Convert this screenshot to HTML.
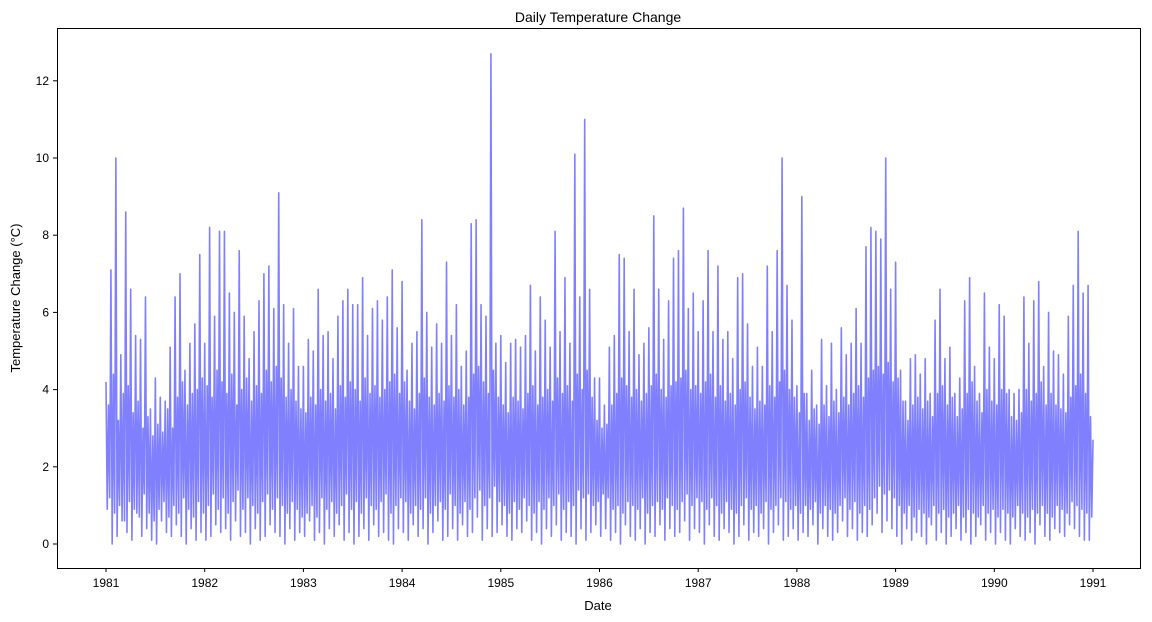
<!DOCTYPE html>
<html><head><meta charset="utf-8"><style>
html,body{margin:0;padding:0;background:#fff;}
svg{display:block;font-family:"Liberation Sans","DejaVu Sans",sans-serif;}
</style></head><body>
<svg id="chart" width="1152" height="622">
<rect x="0" y="0" width="1152" height="622" fill="#fff"/>
<text x="598" y="22" text-anchor="middle" font-size="14">Daily Temperature Change</text>
<text x="598" y="610" text-anchor="middle" font-size="13">Date</text>
<text transform="translate(20,298) rotate(-90)" text-anchor="middle" font-size="13">Temperature Change (°C)</text>
<g id="plot"></g>
<rect x="57.5" y="28.5" width="1083" height="540" fill="none" stroke="#000" stroke-width="1"/>
</svg>
<script>
const yearTicks=[1981,1982,1983,1984,1985,1986,1987,1988,1989,1990,1991];
const yTicks=[0,2,4,6,8,10,12];
const highs=[
4.2,7.1,10.0,4.9,8.6,6.6,5.4,5.3,6.4,3.5,4.3,3.8,3.7,5.1,6.4,7.0,4.5,5.2,5.7,7.5,
5.2,8.2,5.9,8.1,8.1,6.5,6.0,7.6,5.9,4.8,5.5,6.3,7.0,7.2,6.1,9.1,6.2,5.2,6.1,4.6,
4.6,5.3,5.0,6.6,5.4,5.5,4.8,5.9,6.3,6.6,6.2,6.2,6.9,5.4,6.1,6.3,5.8,6.4,7.1,5.6,
6.8,4.5,5.2,5.5,8.4,6.0,5.1,5.7,5.2,7.3,5.4,6.2,4.6,5.0,8.3,8.4,6.2,5.9,12.7,5.2,
5.4,4.7,5.2,5.3,5.1,5.4,6.7,5.0,6.4,5.8,5.1,8.1,5.5,6.9,5.2,10.1,6.4,11.0,6.6,4.3,
4.3,3.6,5.1,5.4,7.5,7.4,5.5,6.6,4.9,5.2,5.6,8.5,6.6,5.3,6.3,7.4,7.6,8.7,6.1,6.5,
5.5,6.3,7.6,5.5,7.2,5.3,5.5,4.8,6.9,7.0,5.7,4.6,5.1,4.6,7.2,5.5,7.6,10.0,6.7,5.8,
4.1,9.0,3.9,4.5,3.6,5.3,4.1,5.2,4.0,5.6,4.9,5.2,6.1,5.2,7.7,8.2,8.1,7.9,10.0,6.6,
7.3,4.5,3.7,4.8,4.9,4.4,4.8,3.9,5.8,6.6,4.8,5.1,3.9,4.3,6.3,6.9,4.6,3.9,6.5,5.1,
4.8,6.2,5.9,4.0,3.9,4.0,6.4,5.2,6.3,6.8,4.6,6.0,5.0,4.9,4.4,5.9,6.7,8.1,6.5,6.7];
const lows=[
0.9,0.0,0.2,0.6,0.3,0.1,0.8,0.2,0.4,0.1,0.0,0.6,0.3,0.2,0.5,0.2,0.0,0.4,0.1,0.3,
0.1,0.2,0.5,0.3,0.4,0.1,0.6,0.2,0.3,0.0,0.4,0.1,0.2,0.5,0.3,0.2,0.0,0.4,0.1,0.3,
0.2,0.6,0.1,0.3,0.0,0.4,0.2,0.5,0.1,0.3,0.0,0.2,0.4,0.1,0.5,0.2,0.3,0.1,0.0,0.4,
0.3,0.1,0.5,0.2,0.4,0.0,0.3,0.6,0.1,0.2,0.4,0.1,0.5,0.2,0.3,0.7,0.1,0.4,0.2,0.3,
0.5,0.2,0.1,0.4,0.3,0.6,0.1,0.3,0.0,0.4,0.2,0.5,0.1,0.3,0.2,0.0,0.4,0.1,0.3,0.5,
0.2,0.4,0.1,0.3,0.0,0.5,0.2,0.1,0.4,0.0,0.3,0.2,0.5,0.1,0.4,0.2,0.3,0.6,0.1,0.4,
0.3,0.0,0.5,0.2,0.1,0.4,0.3,0.0,0.2,0.5,0.1,0.3,0.2,0.4,0.0,0.3,0.5,0.1,0.2,0.4,
0.1,0.3,0.2,0.5,0.0,0.4,0.2,0.1,0.3,0.6,0.2,0.4,0.1,0.3,0.2,0.5,0.8,0.3,0.6,0.4,
0.2,0.0,0.4,0.1,0.3,0.2,0.0,0.5,0.1,0.3,0.0,0.2,0.4,0.1,0.3,0.0,0.2,0.5,0.1,0.3,
0.0,0.3,0.1,0.0,0.4,0.2,0.1,0.3,0.0,0.5,0.2,0.1,0.4,0.3,0.2,0.5,0.4,0.2,0.1,0.1];
const midHighs=[
3.6,4.4,3.2,3.9,4.1,3.4,3.7,3.0,3.3,2.8,3.1,2.9,3.5,3.0,3.8,4.2,3.6,3.9,4.0,4.3,
4.1,3.8,4.5,4.2,3.9,4.4,3.6,4.0,4.3,3.7,4.1,3.9,4.5,4.2,4.6,4.3,3.8,4.0,3.7,3.5,
3.4,3.8,3.6,4.0,3.7,3.9,3.5,4.1,3.8,4.2,4.0,3.7,4.3,3.9,4.1,3.8,4.0,4.2,4.4,3.9,
4.2,3.7,3.5,3.9,4.3,3.8,3.6,3.9,3.7,4.1,3.8,4.0,3.6,3.8,4.4,4.6,4.2,3.9,4.5,3.8,
3.6,3.4,3.8,3.7,3.5,3.9,4.1,3.6,3.8,4.0,3.7,4.3,3.9,4.1,3.7,4.4,4.0,4.5,3.8,3.2,
3.0,3.1,3.6,3.9,4.3,4.1,3.8,4.0,3.7,3.9,4.1,4.4,4.0,3.8,4.1,4.2,4.3,4.5,4.0,4.1,
3.9,4.2,4.4,3.8,4.1,3.7,3.9,3.6,4.0,4.2,3.8,3.5,3.7,3.6,4.1,3.8,4.2,4.5,4.0,3.8,
3.4,3.9,3.2,3.5,3.1,3.6,3.3,3.7,3.4,3.8,3.6,3.9,4.1,3.8,4.3,4.5,4.6,4.4,4.7,4.2,
4.3,3.7,3.2,3.6,3.8,3.5,3.7,3.3,3.9,4.1,3.6,3.8,3.3,3.5,3.9,4.2,3.7,3.4,4.0,3.7,
3.6,4.0,3.9,3.3,3.2,3.4,4.0,3.7,3.9,4.2,3.6,3.9,3.6,3.5,3.4,3.8,4.1,4.4,3.9,3.3];
const midLows=[
1.2,0.8,1.0,0.6,1.1,0.9,0.7,1.3,0.8,0.6,0.9,1.1,0.7,1.0,0.8,1.2,0.9,0.7,1.1,0.8,
1.0,1.3,0.9,1.2,0.8,1.1,1.4,0.9,1.2,1.0,0.8,1.1,1.3,0.9,1.2,1.0,0.8,1.1,0.9,0.7,
0.8,1.0,0.7,1.2,0.9,1.1,0.8,1.0,1.3,0.9,1.1,0.8,1.2,1.0,0.9,1.1,1.3,0.8,1.0,1.2,
1.1,0.8,1.0,0.9,1.2,0.8,1.0,1.1,0.9,1.3,1.0,0.8,1.1,0.9,1.2,1.4,1.0,1.2,1.5,1.1,
1.0,0.8,1.1,0.9,1.2,1.0,0.8,1.1,0.9,1.2,1.0,1.3,0.9,1.1,1.0,1.4,1.2,1.3,1.0,1.1,
1.3,1.2,0.9,1.0,0.8,1.1,1.0,0.9,1.2,0.8,1.0,1.1,0.9,1.2,1.0,0.9,1.1,1.3,1.0,1.2,
1.1,0.9,1.2,1.0,0.8,1.1,0.9,0.8,1.0,1.2,0.9,1.0,0.8,1.1,0.9,1.0,1.2,1.1,0.9,1.0,
0.8,1.0,0.9,1.1,0.8,1.0,0.9,0.8,1.0,1.2,0.9,1.1,0.8,1.0,0.9,1.2,1.5,1.3,1.4,1.2,
1.0,0.8,1.0,0.7,0.9,0.8,0.7,1.0,0.8,0.9,0.7,0.8,1.0,0.7,0.9,0.8,0.7,1.0,0.8,0.9,
0.7,0.9,0.8,0.7,1.0,0.8,0.7,0.9,0.8,1.0,0.8,0.7,1.0,0.9,0.8,1.1,1.0,0.9,0.8,0.7];
const finalValue=2.7;

const NS="http://www.w3.org/2000/svg";
const x0=106, pxPerYear=98.7, y0=544, pxPerUnit=38.6;
function xScale(yr){return x0+(yr-1981)*pxPerYear;}
function yScale(v){return y0-v*pxPerUnit;}
const plot=document.getElementById('plot');
const svg=document.getElementById('chart');

yearTicks.forEach(function(yr){
  const x=xScale(yr);
  const t=document.createElementNS(NS,'line');
  t.setAttribute('x1',x);t.setAttribute('x2',x);t.setAttribute('y1',568);t.setAttribute('y2',572);
  t.setAttribute('stroke','#000');
  
  
  svg.appendChild(t);
  const l=document.createElementNS(NS,'text');
  l.setAttribute('x',x);l.setAttribute('y',587);l.setAttribute('text-anchor','middle');l.setAttribute('font-size','12');
  l.textContent=yr;
  
  
  svg.appendChild(l);
});
yTicks.forEach(function(v){
  const y=yScale(v);
  const t=document.createElementNS(NS,'line');
  t.setAttribute('x1',53);t.setAttribute('x2',57);t.setAttribute('y1',y);t.setAttribute('y2',y);
  t.setAttribute('stroke','#000');
  
  
  svg.appendChild(t);
  const l=document.createElementNS(NS,'text');
  l.setAttribute('x',49);l.setAttribute('y',y+4);l.setAttribute('text-anchor','end');l.setAttribute('font-size','12');
  l.textContent=v;
  
  
  svg.appendChild(l);
});

const step=10/highs.length;
let pts=[];
for(let i=0;i<highs.length;i++){
  const yr=1981+i*step;
  pts.push(xScale(yr).toFixed(2)+','+yScale(highs[i]).toFixed(2));
  pts.push(xScale(yr+step*0.25).toFixed(2)+','+yScale(lows[i]).toFixed(2));
  pts.push(xScale(yr+step*0.5).toFixed(2)+','+yScale(midHighs[i]).toFixed(2));
  pts.push(xScale(yr+step*0.75).toFixed(2)+','+yScale(midLows[i]).toFixed(2));
}
pts.push(xScale(1991).toFixed(2)+','+yScale(finalValue).toFixed(2));
const pl=document.createElementNS(NS,'polyline');
pl.setAttribute('points',pts.join(' '));
pl.setAttribute('fill','none');
pl.setAttribute('stroke','#8080ff');
pl.setAttribute('stroke-width','1.6');
pl.setAttribute('stroke-linejoin','round');


plot.appendChild(pl);
</script>
</body></html>
